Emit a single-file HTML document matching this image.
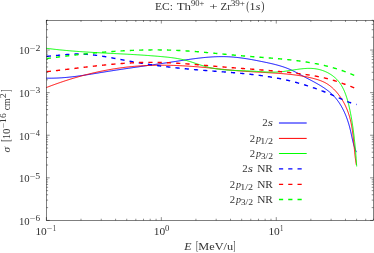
<!DOCTYPE html>
<html><head><meta charset="utf-8"><title>plot</title>
<style>
html,body{margin:0;padding:0;background:#fff;}
body{width:374px;height:253px;overflow:hidden;font-family:"Liberation Serif",serif;}
svg{display:block;will-change:transform;opacity:0.999}
text{font-family:"Liberation Serif",serif;fill:#333;font-kerning:none;}
.i{font-style:italic}
</style></head><body>
<svg width="374" height="253" viewBox="0 0 374 253">
<rect width="374" height="253" fill="#fff"/>
<path d="M46.39,78.14 L47.12,78.16 L47.84,78.17 L48.56,78.18 L49.29,78.19 L50.01,78.19 L50.74,78.19 L51.46,78.19 L52.18,78.18 L52.90,78.17 L53.62,78.16 L54.35,78.14 L55.07,78.12 L55.79,78.09 L56.51,78.07 L57.23,78.04 L57.95,78.01 L58.67,77.97 L59.39,77.93 L60.11,77.89 L60.83,77.85 L61.55,77.80 L62.26,77.75 L62.98,77.70 L63.70,77.64 L64.42,77.59 L65.14,77.53 L65.85,77.46 L66.57,77.40 L67.29,77.33 L68.00,77.26 L68.72,77.19 L69.43,77.12 L70.15,77.04 L70.87,76.97 L71.58,76.89 L72.30,76.81 L73.01,76.72 L73.73,76.64 L74.44,76.55 L75.15,76.46 L75.87,76.37 L76.58,76.28 L77.30,76.19 L78.01,76.09 L78.72,75.99 L79.44,75.90 L80.15,75.80 L80.86,75.70 L81.58,75.59 L82.29,75.49 L83.00,75.39 L83.71,75.28 L84.43,75.17 L85.14,75.07 L85.85,74.96 L86.56,74.85 L87.28,74.74 L87.99,74.63 L88.70,74.52 L89.41,74.40 L90.12,74.29 L90.83,74.18 L91.55,74.06 L92.26,73.95 L92.97,73.83 L93.68,73.71 L94.39,73.60 L95.10,73.48 L95.81,73.36 L96.53,73.25 L97.24,73.13 L97.95,73.01 L98.66,72.90 L99.37,72.78 L100.08,72.66 L100.79,72.54 L101.50,72.43 L102.21,72.31 L102.93,72.19 L103.64,72.08 L104.35,71.96 L105.06,71.85 L105.77,71.73 L106.48,71.62 L107.19,71.50 L107.90,71.39 L108.62,71.28 L109.33,71.16 L110.04,71.05 L110.75,70.94 L111.46,70.83 L112.17,70.72 L112.88,70.61 L113.60,70.50 L114.31,70.39 L115.02,70.28 L115.73,70.17 L116.44,70.06 L117.15,69.95 L117.87,69.85 L118.58,69.74 L119.29,69.63 L120.00,69.52 L120.71,69.42 L121.43,69.31 L122.14,69.20 L122.85,69.10 L123.56,68.99 L124.27,68.89 L124.99,68.78 L125.70,68.68 L126.41,68.57 L127.12,68.47 L127.83,68.37 L128.55,68.26 L129.26,68.16 L129.97,68.06 L130.68,67.95 L131.40,67.85 L132.11,67.75 L132.82,67.64 L133.53,67.54 L134.25,67.44 L134.96,67.34 L135.67,67.23 L136.38,67.13 L137.10,67.03 L137.81,66.93 L138.52,66.83 L139.23,66.73 L139.95,66.62 L140.66,66.52 L141.37,66.42 L142.08,66.32 L142.80,66.22 L143.51,66.12 L144.22,66.01 L144.94,65.91 L145.65,65.81 L146.36,65.71 L147.07,65.61 L147.79,65.51 L148.50,65.41 L149.21,65.30 L149.93,65.20 L150.64,65.10 L151.35,65.00 L152.07,64.90 L152.78,64.80 L153.49,64.69 L154.21,64.59 L154.92,64.49 L155.63,64.39 L156.35,64.28 L157.06,64.18 L157.77,64.08 L158.49,63.98 L159.20,63.87 L159.91,63.77 L160.63,63.67 L161.34,63.56 L162.05,63.46 L162.77,63.35 L163.48,63.25 L164.19,63.14 L164.91,63.04 L165.62,62.93 L166.33,62.83 L167.05,62.72 L167.76,62.62 L168.47,62.51 L169.19,62.40 L169.90,62.30 L170.62,62.19 L171.33,62.08 L172.04,61.97 L172.76,61.87 L173.47,61.76 L174.19,61.65 L174.90,61.54 L175.61,61.43 L176.33,61.32 L177.04,61.21 L177.75,61.10 L178.47,60.99 L179.18,60.88 L179.90,60.77 L180.61,60.66 L181.33,60.56 L182.04,60.45 L182.75,60.34 L183.47,60.23 L184.18,60.12 L184.90,60.02 L185.61,59.91 L186.32,59.81 L187.04,59.70 L187.75,59.60 L188.47,59.50 L189.18,59.39 L189.90,59.29 L190.61,59.19 L191.33,59.09 L192.04,58.99 L192.76,58.90 L193.47,58.80 L194.18,58.71 L194.90,58.61 L195.61,58.52 L196.33,58.43 L197.04,58.34 L197.76,58.26 L198.47,58.17 L199.19,58.09 L199.90,58.01 L200.62,57.93 L201.33,57.85 L202.05,57.77 L202.76,57.70 L203.48,57.62 L204.19,57.55 L204.91,57.48 L205.62,57.42 L206.34,57.35 L207.06,57.29 L207.77,57.23 L208.49,57.18 L209.20,57.12 L209.92,57.07 L210.63,57.02 L211.35,56.97 L212.07,56.93 L212.78,56.89 L213.50,56.85 L214.21,56.81 L214.93,56.78 L215.64,56.75 L216.36,56.72 L217.08,56.70 L217.79,56.68 L218.51,56.66 L219.23,56.65 L219.94,56.64 L220.66,56.63 L221.38,56.63 L222.09,56.63 L222.81,56.63 L223.52,56.63 L224.24,56.64 L224.96,56.66 L225.68,56.68 L226.39,56.70 L227.11,56.72 L227.83,56.75 L228.54,56.79 L229.26,56.82 L229.98,56.86 L230.69,56.91 L231.41,56.96 L232.13,57.01 L232.85,57.07 L233.56,57.13 L234.28,57.19 L235.00,57.26 L235.72,57.32 L236.43,57.40 L237.15,57.47 L237.87,57.55 L238.58,57.64 L239.30,57.72 L240.02,57.81 L240.73,57.90 L241.45,57.99 L242.17,58.09 L242.88,58.19 L243.60,58.29 L244.32,58.40 L245.03,58.50 L245.75,58.61 L246.46,58.72 L247.18,58.84 L247.89,58.95 L248.61,59.07 L249.32,59.19 L250.04,59.32 L250.75,59.44 L251.47,59.56 L252.18,59.69 L252.90,59.82 L253.61,59.95 L254.32,60.09 L255.04,60.22 L255.75,60.35 L256.46,60.49 L257.17,60.63 L257.88,60.77 L258.60,60.91 L259.31,61.05 L260.02,61.19 L260.73,61.34 L261.44,61.48 L262.15,61.63 L262.86,61.77 L263.57,61.92 L264.28,62.07 L264.98,62.21 L265.69,62.36 L266.40,62.51 L267.10,62.66 L267.81,62.81 L268.52,62.97 L269.22,63.12 L269.92,63.28 L270.63,63.43 L271.33,63.60 L272.03,63.76 L272.73,63.92 L273.43,64.09 L274.12,64.26 L274.82,64.43 L275.51,64.61 L276.21,64.79 L276.90,64.97 L277.59,65.16 L278.28,65.35 L278.97,65.54 L279.65,65.74 L280.34,65.94 L281.02,66.15 L281.70,66.36 L282.38,66.58 L283.05,66.80 L283.73,67.03 L284.40,67.26 L285.07,67.50 L285.74,67.74 L286.40,67.99 L287.07,68.24 L287.73,68.50 L288.38,68.77 L289.04,69.04 L289.69,69.32 L290.34,69.61 L290.99,69.90 L291.64,70.20 L292.28,70.50 L292.93,70.81 L293.57,71.13 L294.21,71.44 L294.85,71.77 L295.48,72.09 L296.12,72.42 L296.76,72.75 L297.39,73.09 L298.03,73.42 L298.66,73.76 L299.30,74.11 L299.93,74.45 L300.57,74.79 L301.20,75.14 L301.84,75.48 L302.48,75.83 L303.12,76.17 L303.76,76.52 L304.40,76.86 L305.05,77.20 L305.69,77.54 L306.34,77.88 L306.99,78.22 L307.63,78.56 L308.28,78.90 L308.93,79.24 L309.58,79.59 L310.23,79.93 L310.88,80.27 L311.53,80.61 L312.18,80.95 L312.82,81.30 L313.47,81.65 L314.11,81.99 L314.76,82.34 L315.40,82.70 L316.04,83.05 L316.68,83.41 L317.31,83.76 L317.94,84.13 L318.57,84.49 L319.20,84.86 L319.83,85.23 L320.45,85.60 L321.07,85.98 L321.68,86.36 L322.29,86.75 L322.90,87.14 L323.50,87.53 L324.10,87.93 L324.69,88.34 L325.28,88.74 L325.87,89.16 L326.45,89.58 L327.02,90.00 L327.59,90.43 L328.15,90.87 L328.71,91.31 L329.26,91.76 L329.80,92.21 L330.34,92.67 L330.87,93.14 L331.39,93.62 L331.91,94.10 L332.42,94.59 L332.92,95.09 L333.41,95.59 L333.90,96.10 L334.38,96.62 L334.85,97.15 L335.32,97.68 L335.77,98.22 L336.22,98.77 L336.66,99.32 L337.10,99.88 L337.53,100.45 L337.95,101.02 L338.36,101.60 L338.77,102.19 L339.17,102.78 L339.57,103.37 L339.95,103.97 L340.33,104.58 L340.71,105.19 L341.07,105.81 L341.43,106.43 L341.79,107.06 L342.14,107.69 L342.48,108.32 L342.81,108.96 L343.14,109.61 L343.47,110.25 L343.78,110.91 L344.09,111.56 L344.40,112.22 L344.70,112.88 L344.99,113.55 L345.28,114.22 L345.56,114.89 L345.83,115.57 L346.10,116.24 L346.37,116.92 L346.62,117.61 L346.88,118.29 L347.13,118.98 L347.37,119.67 L347.60,120.36 L347.84,121.06 L348.06,121.75 L348.28,122.45 L348.50,123.14 L348.71,123.84 L348.92,124.54 L349.12,125.25 L349.32,125.95 L349.51,126.65 L349.69,127.35 L349.88,128.06 L350.05,128.76 L350.23,129.46 L350.40,130.17 L350.56,130.87 L350.72,131.57 L350.88,132.28 L351.03,132.98 L351.18,133.68 L351.33,134.38 L351.48,135.08 L351.63,135.78 L351.78,136.48 L351.93,137.18 L352.08,137.88 L352.23,138.57 L352.38,139.27 L352.54,139.96 L352.70,140.65 L352.86,141.34 L353.03,142.03 L353.20,142.72 L353.38,143.41 L353.56,144.09 L353.75,144.77 L353.95,145.45 L354.16,146.13 L354.37,146.81 L354.60,147.48 L354.83,148.16 L355.07,148.83 L355.33,149.49 L355.59,150.16 L355.87,150.82 L356.15,151.48 L356.46,152.14" fill="none" stroke="#0000ff" stroke-width="1.0" stroke-linejoin="round"/>
<path d="M46.45,87.51 L47.15,87.24 L47.85,86.97 L48.55,86.70 L49.25,86.43 L49.95,86.17 L50.65,85.91 L51.36,85.64 L52.06,85.38 L52.76,85.13 L53.47,84.87 L54.17,84.61 L54.88,84.36 L55.59,84.10 L56.29,83.85 L57.00,83.60 L57.71,83.35 L58.42,83.10 L59.13,82.86 L59.84,82.61 L60.55,82.37 L61.26,82.13 L61.97,81.88 L62.68,81.65 L63.40,81.41 L64.11,81.17 L64.83,80.94 L65.54,80.70 L66.25,80.47 L66.97,80.24 L67.69,80.01 L68.40,79.79 L69.12,79.56 L69.84,79.34 L70.56,79.11 L71.27,78.89 L71.99,78.67 L72.71,78.46 L73.43,78.24 L74.15,78.03 L74.87,77.81 L75.60,77.60 L76.32,77.39 L77.04,77.18 L77.76,76.98 L78.49,76.77 L79.21,76.57 L79.93,76.36 L80.66,76.16 L81.38,75.97 L82.11,75.77 L82.84,75.57 L83.56,75.38 L84.29,75.19 L85.02,75.00 L85.74,74.81 L86.47,74.62 L87.20,74.44 L87.93,74.25 L88.66,74.07 L89.39,73.89 L90.12,73.71 L90.85,73.53 L91.58,73.36 L92.31,73.18 L93.05,73.01 L93.78,72.84 L94.51,72.67 L95.24,72.51 L95.98,72.34 L96.71,72.18 L97.44,72.02 L98.18,71.86 L98.91,71.70 L99.65,71.54 L100.38,71.39 L101.12,71.24 L101.86,71.09 L102.59,70.94 L103.33,70.79 L104.07,70.65 L104.80,70.50 L105.54,70.36 L106.28,70.22 L107.02,70.08 L107.76,69.95 L108.50,69.81 L109.24,69.68 L109.98,69.55 L110.72,69.42 L111.46,69.29 L112.20,69.17 L112.94,69.05 L113.68,68.93 L114.42,68.81 L115.16,68.69 L115.90,68.57 L116.65,68.46 L117.39,68.35 L118.13,68.24 L118.87,68.13 L119.62,68.03 L120.36,67.92 L121.10,67.82 L121.85,67.72 L122.59,67.62 L123.34,67.53 L124.08,67.43 L124.83,67.34 L125.57,67.25 L126.32,67.16 L127.06,67.08 L127.81,66.99 L128.55,66.91 L129.30,66.83 L130.05,66.75 L130.79,66.68 L131.54,66.60 L132.29,66.53 L133.03,66.46 L133.78,66.39 L134.53,66.33 L135.28,66.26 L136.02,66.20 L136.77,66.14 L137.52,66.08 L138.27,66.03 L139.02,65.98 L139.77,65.92 L140.51,65.87 L141.26,65.83 L142.01,65.78 L142.76,65.74 L143.51,65.69 L144.26,65.65 L145.01,65.62 L145.76,65.58 L146.51,65.55 L147.26,65.51 L148.01,65.48 L148.76,65.45 L149.51,65.43 L150.26,65.40 L151.01,65.38 L151.76,65.35 L152.51,65.33 L153.26,65.32 L154.01,65.30 L154.76,65.28 L155.51,65.27 L156.26,65.26 L157.02,65.25 L157.77,65.24 L158.52,65.23 L159.27,65.23 L160.02,65.23 L160.77,65.22 L161.52,65.22 L162.27,65.23 L163.03,65.23 L163.78,65.23 L164.53,65.24 L165.28,65.25 L166.03,65.26 L166.78,65.27 L167.54,65.28 L168.29,65.29 L169.04,65.31 L169.79,65.32 L170.54,65.34 L171.29,65.36 L172.05,65.38 L172.80,65.41 L173.55,65.43 L174.30,65.45 L175.05,65.48 L175.80,65.51 L176.56,65.54 L177.31,65.57 L178.06,65.60 L178.81,65.63 L179.56,65.67 L180.31,65.70 L181.06,65.74 L181.82,65.78 L182.57,65.82 L183.32,65.86 L184.07,65.90 L184.82,65.94 L185.57,65.99 L186.32,66.03 L187.07,66.08 L187.82,66.12 L188.57,66.17 L189.33,66.22 L190.08,66.27 L190.83,66.33 L191.58,66.38 L192.33,66.43 L193.08,66.49 L193.83,66.54 L194.58,66.60 L195.33,66.66 L196.08,66.72 L196.83,66.78 L197.58,66.84 L198.33,66.90 L199.08,66.97 L199.82,67.03 L200.57,67.10 L201.32,67.16 L202.07,67.23 L202.82,67.30 L203.57,67.36 L204.32,67.43 L205.06,67.50 L205.81,67.58 L206.56,67.65 L207.31,67.72 L208.06,67.79 L208.80,67.87 L209.55,67.94 L210.30,68.02 L211.04,68.09 L211.79,68.17 L212.54,68.25 L213.28,68.32 L214.03,68.40 L214.78,68.48 L215.52,68.56 L216.27,68.64 L217.02,68.72 L217.76,68.79 L218.51,68.87 L219.25,68.95 L220.00,69.03 L220.75,69.11 L221.49,69.19 L222.24,69.26 L222.98,69.34 L223.73,69.42 L224.48,69.50 L225.22,69.57 L225.97,69.65 L226.71,69.72 L227.46,69.80 L228.20,69.87 L228.95,69.95 L229.70,70.02 L230.44,70.09 L231.19,70.16 L231.93,70.23 L232.68,70.30 L233.43,70.37 L234.17,70.44 L234.92,70.50 L235.67,70.57 L236.41,70.63 L237.16,70.69 L237.91,70.76 L238.65,70.82 L239.40,70.87 L240.15,70.93 L240.90,70.99 L241.64,71.05 L242.39,71.10 L243.14,71.15 L243.89,71.21 L244.63,71.26 L245.38,71.31 L246.13,71.36 L246.88,71.41 L247.63,71.46 L248.38,71.51 L249.12,71.56 L249.87,71.61 L250.62,71.65 L251.37,71.70 L252.12,71.75 L252.87,71.79 L253.62,71.84 L254.37,71.88 L255.12,71.93 L255.87,71.97 L256.62,72.02 L257.37,72.06 L258.12,72.10 L258.87,72.15 L259.62,72.19 L260.37,72.23 L261.12,72.28 L261.87,72.32 L262.62,72.36 L263.37,72.41 L264.12,72.45 L264.87,72.49 L265.62,72.54 L266.37,72.58 L267.13,72.63 L267.88,72.67 L268.63,72.72 L269.38,72.76 L270.13,72.81 L270.88,72.85 L271.64,72.90 L272.39,72.95 L273.14,72.99 L273.89,73.04 L274.64,73.09 L275.40,73.14 L276.15,73.19 L276.90,73.24 L277.65,73.30 L278.40,73.35 L279.16,73.41 L279.91,73.46 L280.66,73.52 L281.41,73.58 L282.16,73.64 L282.92,73.70 L283.67,73.76 L284.42,73.83 L285.17,73.89 L285.92,73.96 L286.67,74.03 L287.42,74.11 L288.17,74.18 L288.92,74.26 L289.67,74.34 L290.41,74.42 L291.16,74.50 L291.91,74.58 L292.66,74.67 L293.40,74.76 L294.15,74.86 L294.89,74.95 L295.64,75.05 L296.38,75.15 L297.13,75.26 L297.87,75.36 L298.61,75.47 L299.35,75.59 L300.09,75.70 L300.83,75.82 L301.57,75.95 L302.31,76.07 L303.05,76.20 L303.79,76.33 L304.53,76.47 L305.26,76.61 L306.00,76.76 L306.73,76.90 L307.46,77.06 L308.20,77.21 L308.93,77.37 L309.66,77.54 L310.39,77.70 L311.11,77.88 L311.84,78.05 L312.57,78.23 L313.29,78.42 L314.02,78.61 L314.74,78.81 L315.46,79.01 L316.18,79.21 L316.90,79.42 L317.61,79.64 L318.32,79.87 L319.03,80.11 L319.74,80.36 L320.44,80.61 L321.13,80.88 L321.82,81.16 L322.51,81.44 L323.19,81.75 L323.86,82.06 L324.53,82.39 L325.19,82.73 L325.84,83.09 L326.49,83.46 L327.13,83.85 L327.76,84.26 L328.38,84.68 L329.00,85.11 L329.60,85.56 L330.20,86.02 L330.79,86.49 L331.38,86.97 L331.95,87.47 L332.52,87.98 L333.08,88.49 L333.63,89.02 L334.17,89.56 L334.70,90.10 L335.23,90.66 L335.75,91.22 L336.25,91.79 L336.75,92.36 L337.24,92.94 L337.73,93.53 L338.20,94.12 L338.67,94.72 L339.12,95.32 L339.57,95.93 L340.01,96.54 L340.44,97.16 L340.86,97.78 L341.28,98.41 L341.68,99.03 L342.08,99.67 L342.47,100.31 L342.85,100.95 L343.22,101.59 L343.59,102.24 L343.95,102.90 L344.30,103.56 L344.64,104.22 L344.97,104.88 L345.30,105.55 L345.62,106.22 L345.93,106.90 L346.23,107.58 L346.53,108.26 L346.82,108.94 L347.10,109.63 L347.37,110.32 L347.64,111.02 L347.90,111.72 L348.15,112.42 L348.40,113.12 L348.63,113.82 L348.87,114.53 L349.09,115.24 L349.31,115.95 L349.52,116.67 L349.73,117.39 L349.92,118.11 L350.12,118.83 L350.30,119.55 L350.48,120.28 L350.65,121.01 L350.82,121.73 L350.98,122.47 L351.13,123.20 L351.28,123.93 L351.43,124.67 L351.57,125.41 L351.70,126.15 L351.83,126.89 L351.96,127.63 L352.08,128.37 L352.19,129.12 L352.31,129.86 L352.42,130.61 L352.52,131.35 L352.62,132.10 L352.72,132.85 L352.81,133.60 L352.91,134.35 L353.00,135.10 L353.08,135.86 L353.17,136.61 L353.25,137.36 L353.33,138.12 L353.41,138.87 L353.48,139.62 L353.56,140.38 L353.63,141.13 L353.71,141.89 L353.78,142.64 L353.85,143.40 L353.92,144.15 L353.99,144.91 L354.06,145.66 L354.13,146.41 L354.20,147.17 L354.27,147.92 L354.34,148.67 L354.41,149.43 L354.48,150.18 L354.55,150.93 L354.63,151.68 L354.70,152.43 L354.78,153.18 L354.86,153.92 L354.94,154.67 L355.02,155.42 L355.11,156.16 L355.19,156.90 L355.28,157.65 L355.38,158.39 L355.47,159.13 L355.57,159.87 L355.67,160.60 L355.78,161.34 L355.89,162.07 L356.00,162.80 L356.12,163.53 L356.24,164.26 L356.37,164.99" fill="none" stroke="#ff0000" stroke-width="1.0" stroke-linejoin="round"/>
<path d="M46.40,48.29 L47.16,48.40 L47.93,48.50 L48.70,48.59 L49.47,48.69 L50.24,48.79 L51.01,48.88 L51.78,48.97 L52.55,49.06 L53.32,49.16 L54.09,49.24 L54.86,49.33 L55.63,49.42 L56.40,49.50 L57.17,49.59 L57.94,49.67 L58.71,49.75 L59.48,49.83 L60.25,49.91 L61.02,49.99 L61.79,50.06 L62.56,50.14 L63.33,50.21 L64.10,50.29 L64.88,50.36 L65.65,50.43 L66.42,50.50 L67.19,50.57 L67.96,50.64 L68.73,50.71 L69.50,50.77 L70.27,50.84 L71.04,50.90 L71.81,50.97 L72.58,51.03 L73.36,51.09 L74.13,51.15 L74.90,51.21 L75.67,51.27 L76.44,51.33 L77.21,51.39 L77.98,51.44 L78.76,51.50 L79.53,51.55 L80.30,51.61 L81.07,51.66 L81.84,51.72 L82.61,51.77 L83.39,51.82 L84.16,51.87 L84.93,51.92 L85.70,51.97 L86.47,52.02 L87.25,52.07 L88.02,52.12 L88.79,52.16 L89.56,52.21 L90.33,52.26 L91.11,52.30 L91.88,52.35 L92.65,52.40 L93.42,52.44 L94.19,52.48 L94.97,52.53 L95.74,52.57 L96.51,52.61 L97.28,52.66 L98.06,52.70 L98.83,52.74 L99.60,52.78 L100.37,52.82 L101.15,52.87 L101.92,52.91 L102.69,52.95 L103.46,52.99 L104.24,53.03 L105.01,53.07 L105.78,53.11 L106.55,53.15 L107.33,53.19 L108.10,53.23 L108.87,53.27 L109.65,53.31 L110.42,53.34 L111.19,53.38 L111.96,53.42 L112.74,53.46 L113.51,53.50 L114.28,53.54 L115.05,53.58 L115.83,53.62 L116.60,53.66 L117.37,53.70 L118.15,53.74 L118.92,53.78 L119.69,53.82 L120.47,53.86 L121.24,53.90 L122.01,53.94 L122.78,53.98 L123.56,54.02 L124.33,54.06 L125.10,54.10 L125.88,54.14 L126.65,54.18 L127.42,54.22 L128.20,54.27 L128.97,54.31 L129.74,54.35 L130.51,54.40 L131.29,54.44 L132.06,54.48 L132.83,54.53 L133.61,54.57 L134.38,54.62 L135.15,54.66 L135.93,54.71 L136.70,54.76 L137.47,54.81 L138.24,54.85 L139.02,54.90 L139.79,54.95 L140.56,55.00 L141.34,55.05 L142.11,55.10 L142.88,55.15 L143.66,55.21 L144.43,55.26 L145.20,55.31 L145.97,55.37 L146.75,55.42 L147.52,55.48 L148.29,55.53 L149.07,55.59 L149.84,55.65 L150.61,55.71 L151.38,55.77 L152.16,55.83 L152.93,55.89 L153.70,55.95 L154.48,56.01 L155.25,56.07 L156.02,56.14 L156.79,56.20 L157.57,56.26 L158.34,56.33 L159.11,56.39 L159.88,56.46 L160.65,56.53 L161.43,56.60 L162.20,56.67 L162.97,56.74 L163.74,56.81 L164.51,56.88 L165.29,56.96 L166.06,57.03 L166.83,57.11 L167.60,57.19 L168.37,57.28 L169.13,57.37 L169.90,57.46 L170.67,57.55 L171.44,57.64 L172.20,57.74 L172.97,57.85 L173.73,57.96 L174.50,58.07 L175.26,58.18 L176.02,58.30 L176.78,58.43 L177.54,58.56 L178.30,58.69 L179.06,58.83 L179.82,58.98 L180.57,59.13 L181.33,59.28 L182.08,59.45 L182.83,59.62 L183.58,59.79 L184.33,59.97 L185.08,60.16 L185.83,60.36 L186.57,60.56 L187.31,60.77 L188.06,60.98 L188.80,61.20 L189.54,61.42 L190.28,61.65 L191.01,61.89 L191.75,62.12 L192.49,62.36 L193.22,62.60 L193.96,62.85 L194.69,63.09 L195.43,63.34 L196.16,63.59 L196.90,63.83 L197.63,64.08 L198.37,64.32 L199.10,64.57 L199.84,64.81 L200.57,65.05 L201.31,65.28 L202.05,65.52 L202.78,65.74 L203.52,65.97 L204.26,66.19 L205.00,66.40 L205.74,66.61 L206.49,66.81 L207.23,67.01 L207.98,67.19 L208.73,67.37 L209.47,67.55 L210.22,67.71 L210.98,67.87 L211.73,68.03 L212.48,68.18 L213.24,68.32 L214.00,68.46 L214.75,68.59 L215.51,68.71 L216.27,68.83 L217.03,68.95 L217.80,69.05 L218.56,69.16 L219.32,69.26 L220.09,69.35 L220.86,69.44 L221.62,69.53 L222.39,69.61 L223.16,69.69 L223.93,69.76 L224.70,69.83 L225.47,69.90 L226.25,69.96 L227.02,70.02 L227.79,70.07 L228.57,70.13 L229.34,70.18 L230.12,70.22 L230.90,70.27 L231.67,70.31 L232.45,70.35 L233.23,70.39 L234.01,70.43 L234.79,70.46 L235.56,70.49 L236.34,70.52 L237.12,70.55 L237.90,70.58 L238.68,70.61 L239.46,70.64 L240.24,70.66 L241.02,70.69 L241.80,70.72 L242.58,70.74 L243.36,70.77 L244.14,70.79 L244.91,70.82 L245.69,70.85 L246.47,70.88 L247.25,70.90 L248.02,70.93 L248.80,70.96 L249.57,71.00 L250.35,71.03 L251.12,71.07 L251.89,71.10 L252.67,71.14 L253.44,71.18 L254.21,71.23 L254.98,71.27 L255.75,71.32 L256.51,71.37 L257.28,71.42 L258.05,71.47 L258.81,71.52 L259.58,71.57 L260.34,71.62 L261.11,71.67 L261.87,71.72 L262.64,71.77 L263.40,71.82 L264.16,71.86 L264.93,71.91 L265.69,71.95 L266.45,71.98 L267.22,72.02 L267.98,72.05 L268.74,72.08 L269.51,72.10 L270.27,72.12 L271.04,72.13 L271.80,72.14 L272.57,72.14 L273.33,72.14 L274.10,72.13 L274.87,72.12 L275.64,72.09 L276.41,72.06 L277.18,72.03 L277.95,71.98 L278.72,71.93 L279.49,71.87 L280.27,71.80 L281.04,71.73 L281.82,71.65 L282.59,71.56 L283.37,71.47 L284.15,71.37 L284.93,71.26 L285.70,71.16 L286.48,71.04 L287.26,70.93 L288.04,70.81 L288.82,70.69 L289.61,70.57 L290.39,70.45 L291.17,70.32 L291.95,70.20 L292.73,70.07 L293.51,69.95 L294.29,69.83 L295.07,69.71 L295.85,69.59 L296.63,69.47 L297.41,69.36 L298.19,69.25 L298.97,69.14 L299.75,69.04 L300.53,68.95 L301.31,68.86 L302.08,68.77 L302.86,68.69 L303.63,68.62 L304.41,68.56 L305.18,68.51 L305.95,68.46 L306.73,68.42 L307.50,68.39 L308.27,68.37 L309.03,68.37 L309.80,68.37 L310.56,68.38 L311.33,68.41 L312.09,68.45 L312.85,68.50 L313.61,68.56 L314.37,68.64 L315.12,68.74 L315.88,68.84 L316.63,68.97 L317.38,69.11 L318.13,69.26 L318.87,69.43 L319.62,69.61 L320.35,69.81 L321.09,70.02 L321.82,70.25 L322.54,70.49 L323.26,70.74 L323.98,71.02 L324.69,71.30 L325.39,71.60 L326.09,71.91 L326.78,72.24 L327.47,72.58 L328.15,72.93 L328.82,73.30 L329.48,73.68 L330.13,74.08 L330.78,74.49 L331.41,74.91 L332.04,75.34 L332.66,75.79 L333.27,76.26 L333.86,76.73 L334.45,77.22 L335.03,77.72 L335.59,78.23 L336.15,78.76 L336.69,79.29 L337.22,79.84 L337.74,80.41 L338.24,80.98 L338.73,81.57 L339.21,82.17 L339.67,82.78 L340.12,83.40 L340.56,84.04 L340.98,84.68 L341.39,85.34 L341.79,86.00 L342.17,86.68 L342.54,87.36 L342.90,88.05 L343.25,88.75 L343.59,89.46 L343.92,90.17 L344.24,90.89 L344.55,91.61 L344.85,92.34 L345.13,93.08 L345.42,93.81 L345.69,94.56 L345.95,95.30 L346.21,96.05 L346.46,96.79 L346.70,97.54 L346.94,98.29 L347.17,99.04 L347.39,99.80 L347.61,100.55 L347.82,101.31 L348.03,102.06 L348.23,102.82 L348.42,103.58 L348.61,104.34 L348.80,105.10 L348.98,105.86 L349.15,106.62 L349.32,107.38 L349.49,108.14 L349.66,108.91 L349.82,109.67 L349.98,110.43 L350.13,111.19 L350.28,111.95 L350.43,112.72 L350.58,113.48 L350.73,114.24 L350.87,115.00 L351.01,115.76 L351.15,116.52 L351.28,117.29 L351.42,118.05 L351.55,118.81 L351.68,119.57 L351.81,120.33 L351.93,121.09 L352.05,121.85 L352.18,122.61 L352.30,123.37 L352.41,124.13 L352.53,124.89 L352.64,125.65 L352.75,126.42 L352.86,127.18 L352.97,127.94 L353.08,128.70 L353.18,129.46 L353.29,130.22 L353.39,130.98 L353.49,131.74 L353.59,132.51 L353.68,133.27 L353.78,134.03 L353.87,134.79 L353.96,135.55 L354.05,136.32 L354.14,137.08 L354.23,137.84 L354.31,138.61 L354.40,139.37 L354.48,140.14 L354.56,140.90 L354.64,141.67 L354.72,142.43 L354.80,143.20 L354.88,143.96 L354.95,144.73 L355.03,145.50 L355.10,146.26 L355.17,147.03 L355.24,147.80 L355.32,148.57 L355.38,149.34 L355.45,150.11 L355.52,150.88 L355.59,151.65 L355.65,152.42 L355.72,153.19 L355.78,153.96 L355.84,154.74 L355.90,155.51 L355.96,156.29 L356.02,157.06 L356.08,157.84 L356.14,158.61 L356.20,159.39 L356.26,160.17 L356.32,160.95 L356.37,161.72 L356.43,162.50 L356.48,163.29 L356.54,164.07 L356.59,164.85 L356.65,165.63 L356.70,166.42" fill="none" stroke="#00ff00" stroke-width="1.0" stroke-linejoin="round"/>
<path d="M46.40,56.30 L47.03,56.26 L47.66,56.22 L48.29,56.18 L48.93,56.13 L49.56,56.09 L50.19,56.04 L50.82,55.98 L51.45,55.93 L52.08,55.88 L52.72,55.82 L53.35,55.76 L53.98,55.71 L54.61,55.65 L55.24,55.59 L55.88,55.53 L56.51,55.47 L57.14,55.41 L57.77,55.34 L58.40,55.28 L59.04,55.22 L59.67,55.16 L60.30,55.10 L60.93,55.04 L61.57,54.98 L62.20,54.92 L62.83,54.86 L63.46,54.80 L64.10,54.74 L64.73,54.69 L65.36,54.63 L65.99,54.58 L66.63,54.53 L67.26,54.48 L67.89,54.43 L68.52,54.39 L69.16,54.34 L69.79,54.30 L70.42,54.26 L71.06,54.23 L71.69,54.19 L72.32,54.16 L72.95,54.13 L73.59,54.11 L74.22,54.09 L74.85,54.07 L75.49,54.05 L76.12,54.04 L76.75,54.03 L77.38,54.03 L78.02,54.03 L78.65,54.03 L79.28,54.04 L79.92,54.05 L80.55,54.06 L81.18,54.08 L81.81,54.10 L82.45,54.12 L83.08,54.15 L83.71,54.18 L84.34,54.21 L84.98,54.25 L85.61,54.29 L86.24,54.33 L86.87,54.37 L87.50,54.42 L88.14,54.47 L88.77,54.52 L89.40,54.58 L90.03,54.63 L90.66,54.69 L91.29,54.76 L91.92,54.82 L92.55,54.89 L93.18,54.96 L93.81,55.03 L94.44,55.10 L95.07,55.18 L95.70,55.26 L96.33,55.34 L96.96,55.42 L97.58,55.51 L98.21,55.59 L98.84,55.68 L99.47,55.77 L100.10,55.86 L100.72,55.95 L101.35,56.05 L101.98,56.14 L102.60,56.24 L103.23,56.34 L103.86,56.44 L104.48,56.54 L105.11,56.65 L105.73,56.75 L106.36,56.86 L106.99,56.97 L107.61,57.07 L108.24,57.18 L108.86,57.29 L109.49,57.40 L110.11,57.52 L110.74,57.63 L111.36,57.74 L111.99,57.86 L112.61,57.97 L113.24,58.09 L113.86,58.21 L114.48,58.32 L115.11,58.44 L115.73,58.56 L116.36,58.68 L116.98,58.80 L117.60,58.92 L118.23,59.04 L118.85,59.16 L119.48,59.28 L120.10,59.40 L120.72,59.52 L121.35,59.64 L121.97,59.76 L122.60,59.88 L123.22,60.00 L123.84,60.12 L124.47,60.24 L125.09,60.36 L125.72,60.47 L126.34,60.59 L126.96,60.71 L127.59,60.83 L128.21,60.95 L128.84,61.06 L129.46,61.18 L130.08,61.29 L130.71,61.41 L131.33,61.52 L131.96,61.63 L132.58,61.75 L133.21,61.86 L133.83,61.97 L134.46,62.08 L135.08,62.19 L135.71,62.30 L136.33,62.40 L136.96,62.51 L137.58,62.61 L138.21,62.72 L138.83,62.82 L139.46,62.93 L140.08,63.03 L140.71,63.13 L141.34,63.23 L141.96,63.33 L142.59,63.43 L143.21,63.53 L143.84,63.63 L144.47,63.73 L145.09,63.83 L145.72,63.92 L146.35,64.02 L146.97,64.11 L147.60,64.21 L148.23,64.30 L148.85,64.39 L149.48,64.49 L150.11,64.58 L150.73,64.67 L151.36,64.76 L151.99,64.85 L152.61,64.94 L153.24,65.02 L153.87,65.11 L154.50,65.20 L155.12,65.29 L155.75,65.37 L156.38,65.46 L157.01,65.54 L157.63,65.62 L158.26,65.71 L158.89,65.79 L159.52,65.87 L160.15,65.95 L160.77,66.03 L161.40,66.11 L162.03,66.19 L162.66,66.27 L163.29,66.35 L163.92,66.43 L164.54,66.51 L165.17,66.58 L165.80,66.66 L166.43,66.73 L167.06,66.81 L167.69,66.88 L168.32,66.96 L168.95,67.03 L169.58,67.10 L170.20,67.18 L170.83,67.25 L171.46,67.32 L172.09,67.39 L172.72,67.46 L173.35,67.53 L173.98,67.60 L174.61,67.67 L175.24,67.74 L175.87,67.80 L176.50,67.87 L177.13,67.94 L177.76,68.00 L178.39,68.07 L179.02,68.13 L179.65,68.20 L180.28,68.26 L180.91,68.33 L181.54,68.39 L182.17,68.45 L182.80,68.52 L183.43,68.58 L184.06,68.64 L184.69,68.70 L185.32,68.76 L185.96,68.82 L186.59,68.89 L187.22,68.94 L187.85,69.00 L188.48,69.06 L189.11,69.12 L189.74,69.18 L190.37,69.24 L191.00,69.30 L191.64,69.35 L192.27,69.41 L192.90,69.47 L193.53,69.52 L194.16,69.58 L194.79,69.63 L195.42,69.69 L196.06,69.74 L196.69,69.80 L197.32,69.85 L197.95,69.90 L198.58,69.96 L199.22,70.01 L199.85,70.06 L200.48,70.12 L201.11,70.17 L201.75,70.22 L202.38,70.27 L203.01,70.32 L203.64,70.37 L204.27,70.42 L204.91,70.47 L205.54,70.52 L206.17,70.57 L206.81,70.62 L207.44,70.67 L208.07,70.72 L208.70,70.77 L209.34,70.82 L209.97,70.87 L210.60,70.92 L211.24,70.97 L211.87,71.01 L212.50,71.06 L213.13,71.11 L213.77,71.16 L214.40,71.20 L215.03,71.25 L215.67,71.30 L216.30,71.35 L216.93,71.40 L217.57,71.44 L218.20,71.49 L218.83,71.54 L219.47,71.59 L220.10,71.63 L220.73,71.68 L221.37,71.73 L222.00,71.78 L222.63,71.83 L223.26,71.88 L223.90,71.92 L224.53,71.97 L225.16,72.02 L225.80,72.07 L226.43,72.12 L227.06,72.17 L227.70,72.22 L228.33,72.27 L228.96,72.32 L229.59,72.37 L230.23,72.42 L230.86,72.47 L231.49,72.52 L232.12,72.58 L232.76,72.63 L233.39,72.68 L234.02,72.73 L234.65,72.79 L235.29,72.84 L235.92,72.90 L236.55,72.95 L237.18,73.01 L237.82,73.06 L238.45,73.12 L239.08,73.18 L239.71,73.23 L240.34,73.29 L240.97,73.35 L241.61,73.41 L242.24,73.47 L242.87,73.53 L243.50,73.59 L244.13,73.65 L244.76,73.71 L245.39,73.77 L246.02,73.84 L246.65,73.90 L247.29,73.97 L247.92,74.03 L248.55,74.10 L249.18,74.17 L249.81,74.23 L250.44,74.30 L251.07,74.37 L251.70,74.44 L252.33,74.51 L252.95,74.58 L253.58,74.66 L254.21,74.73 L254.84,74.80 L255.47,74.88 L256.10,74.95 L256.73,75.03 L257.36,75.11 L257.99,75.19 L258.61,75.27 L259.24,75.35 L259.87,75.43 L260.50,75.51 L261.12,75.60 L261.75,75.68 L262.38,75.77 L263.01,75.86 L263.63,75.94 L264.26,76.03 L264.89,76.12 L265.51,76.22 L266.14,76.31 L266.76,76.40 L267.39,76.50 L268.01,76.59 L268.64,76.69 L269.26,76.79 L269.89,76.89 L270.51,76.99 L271.14,77.09 L271.76,77.20 L272.39,77.30 L273.01,77.41 L273.63,77.52 L274.26,77.62 L274.88,77.74 L275.50,77.85 L276.13,77.96 L276.75,78.07 L277.37,78.19 L277.99,78.31 L278.61,78.43 L279.23,78.55 L279.86,78.67 L280.48,78.79 L281.10,78.92 L281.72,79.04 L282.34,79.17 L282.96,79.30 L283.58,79.43 L284.20,79.56 L284.82,79.70 L285.43,79.83 L286.05,79.97 L286.67,80.11 L287.29,80.25 L287.91,80.39 L288.53,80.53 L289.14,80.68 L289.76,80.83 L290.38,80.98 L290.99,81.13 L291.61,81.28 L292.22,81.43 L292.84,81.59 L293.45,81.74 L294.07,81.90 L294.68,82.06 L295.30,82.22 L295.91,82.39 L296.52,82.55 L297.14,82.72 L297.75,82.89 L298.36,83.06 L298.97,83.23 L299.58,83.40 L300.19,83.58 L300.81,83.75 L301.42,83.93 L302.02,84.11 L302.63,84.29 L303.24,84.47 L303.85,84.65 L304.46,84.84 L305.07,85.03 L305.67,85.21 L306.28,85.40 L306.89,85.59 L307.49,85.79 L308.10,85.98 L308.70,86.18 L309.31,86.37 L309.91,86.57 L310.51,86.77 L311.12,86.97 L311.72,87.17 L312.32,87.38 L312.92,87.58 L313.52,87.79 L314.12,88.00 L314.72,88.21 L315.32,88.42 L315.92,88.63 L316.51,88.84 L317.11,89.06 L317.71,89.28 L318.30,89.49 L318.90,89.71 L319.49,89.93 L320.09,90.16 L320.68,90.38 L321.28,90.60 L321.87,90.83 L322.46,91.06 L323.05,91.28 L323.64,91.51 L324.23,91.75 L324.82,91.98 L325.41,92.21 L326.00,92.45 L326.58,92.68 L327.17,92.92 L327.76,93.16 L328.34,93.40 L328.93,93.64 L329.51,93.88 L330.10,94.12 L330.68,94.36 L331.26,94.61 L331.85,94.85 L332.43,95.10 L333.01,95.35 L333.59,95.59 L334.17,95.84 L334.76,96.09 L335.34,96.34 L335.92,96.59 L336.50,96.84 L337.08,97.09 L337.66,97.35 L338.24,97.60 L338.82,97.85 L339.40,98.11 L339.97,98.36 L340.55,98.62 L341.13,98.87 L341.71,99.13 L342.29,99.38 L342.87,99.64 L343.45,99.89 L344.03,100.15 L344.61,100.40 L345.19,100.65 L345.77,100.89 L346.35,101.14 L346.94,101.38 L347.52,101.61 L348.11,101.85 L348.70,102.08 L349.29,102.30 L349.88,102.52 L350.47,102.73 L351.07,102.94 L351.67,103.14 L352.27,103.33 L352.87,103.52 L353.48,103.69 L354.08,103.86 L354.70,104.03 L355.31,104.18 L355.93,104.32 L356.55,104.46" fill="none" stroke="#0000ff" stroke-width="1.4" stroke-dasharray="4.2 5.08" stroke-dashoffset="-0.3" stroke-linejoin="round"/>
<path d="M46.43,71.69 L47.05,71.63 L47.67,71.56 L48.29,71.49 L48.91,71.42 L49.53,71.36 L50.15,71.29 L50.77,71.22 L51.39,71.15 L52.01,71.08 L52.63,71.01 L53.25,70.94 L53.87,70.87 L54.49,70.80 L55.11,70.73 L55.73,70.66 L56.36,70.59 L56.98,70.51 L57.60,70.44 L58.22,70.37 L58.84,70.30 L59.46,70.22 L60.08,70.15 L60.71,70.08 L61.33,70.00 L61.95,69.93 L62.57,69.86 L63.19,69.78 L63.82,69.71 L64.44,69.64 L65.06,69.56 L65.68,69.49 L66.31,69.41 L66.93,69.34 L67.55,69.26 L68.17,69.19 L68.80,69.11 L69.42,69.04 L70.04,68.96 L70.67,68.89 L71.29,68.81 L71.91,68.74 L72.54,68.66 L73.16,68.59 L73.78,68.51 L74.41,68.44 L75.03,68.36 L75.65,68.29 L76.28,68.21 L76.90,68.14 L77.53,68.06 L78.15,67.99 L78.77,67.91 L79.40,67.84 L80.02,67.76 L80.65,67.69 L81.27,67.61 L81.89,67.54 L82.52,67.47 L83.14,67.39 L83.77,67.32 L84.39,67.24 L85.02,67.17 L85.64,67.10 L86.27,67.02 L86.89,66.95 L87.52,66.88 L88.14,66.81 L88.77,66.73 L89.39,66.66 L90.02,66.59 L90.64,66.52 L91.27,66.45 L91.89,66.38 L92.52,66.31 L93.14,66.24 L93.77,66.17 L94.39,66.10 L95.02,66.03 L95.64,65.96 L96.27,65.89 L96.89,65.82 L97.52,65.75 L98.15,65.69 L98.77,65.62 L99.40,65.55 L100.02,65.49 L100.65,65.42 L101.28,65.35 L101.90,65.29 L102.53,65.22 L103.15,65.16 L103.78,65.10 L104.41,65.03 L105.03,64.97 L105.66,64.91 L106.28,64.85 L106.91,64.79 L107.54,64.72 L108.16,64.66 L108.79,64.61 L109.42,64.55 L110.04,64.49 L110.67,64.43 L111.29,64.37 L111.92,64.32 L112.55,64.26 L113.17,64.20 L113.80,64.15 L114.43,64.09 L115.05,64.04 L115.68,63.99 L116.31,63.94 L116.93,63.88 L117.56,63.83 L118.19,63.78 L118.81,63.73 L119.44,63.68 L120.07,63.64 L120.69,63.59 L121.32,63.54 L121.95,63.50 L122.57,63.45 L123.20,63.41 L123.83,63.36 L124.46,63.32 L125.08,63.28 L125.71,63.24 L126.34,63.20 L126.96,63.16 L127.59,63.12 L128.22,63.08 L128.84,63.04 L129.47,63.01 L130.10,62.97 L130.72,62.94 L131.35,62.90 L131.98,62.87 L132.61,62.84 L133.23,62.81 L133.86,62.78 L134.49,62.75 L135.11,62.72 L135.74,62.70 L136.37,62.67 L136.99,62.64 L137.62,62.62 L138.25,62.60 L138.87,62.58 L139.50,62.55 L140.13,62.53 L140.76,62.52 L141.38,62.50 L142.01,62.48 L142.64,62.47 L143.26,62.45 L143.89,62.44 L144.52,62.42 L145.14,62.41 L145.77,62.40 L146.40,62.39 L147.02,62.39 L147.65,62.38 L148.28,62.37 L148.90,62.37 L149.53,62.37 L150.16,62.36 L150.79,62.36 L151.41,62.36 L152.04,62.36 L152.67,62.37 L153.29,62.37 L153.92,62.38 L154.55,62.38 L155.17,62.39 L155.80,62.40 L156.42,62.41 L157.05,62.42 L157.68,62.43 L158.30,62.44 L158.93,62.45 L159.56,62.47 L160.18,62.48 L160.81,62.50 L161.44,62.51 L162.06,62.53 L162.69,62.55 L163.32,62.57 L163.94,62.59 L164.57,62.62 L165.20,62.64 L165.82,62.66 L166.45,62.69 L167.07,62.71 L167.70,62.74 L168.33,62.76 L168.95,62.79 L169.58,62.82 L170.21,62.85 L170.83,62.88 L171.46,62.91 L172.08,62.94 L172.71,62.98 L173.34,63.01 L173.96,63.04 L174.59,63.08 L175.22,63.11 L175.84,63.15 L176.47,63.19 L177.09,63.22 L177.72,63.26 L178.35,63.30 L178.97,63.34 L179.60,63.38 L180.23,63.42 L180.85,63.46 L181.48,63.50 L182.10,63.55 L182.73,63.59 L183.36,63.63 L183.98,63.68 L184.61,63.72 L185.23,63.77 L185.86,63.81 L186.49,63.86 L187.11,63.91 L187.74,63.95 L188.36,64.00 L188.99,64.05 L189.62,64.10 L190.24,64.14 L190.87,64.19 L191.49,64.24 L192.12,64.29 L192.75,64.34 L193.37,64.39 L194.00,64.44 L194.62,64.49 L195.25,64.55 L195.88,64.60 L196.50,64.65 L197.13,64.70 L197.75,64.75 L198.38,64.81 L199.01,64.86 L199.63,64.91 L200.26,64.97 L200.88,65.02 L201.51,65.07 L202.14,65.13 L202.76,65.18 L203.39,65.24 L204.01,65.29 L204.64,65.34 L205.27,65.40 L205.89,65.45 L206.52,65.51 L207.14,65.56 L207.77,65.62 L208.39,65.67 L209.02,65.73 L209.65,65.78 L210.27,65.84 L210.90,65.89 L211.52,65.95 L212.15,66.00 L212.78,66.06 L213.40,66.11 L214.03,66.17 L214.65,66.22 L215.28,66.28 L215.91,66.33 L216.53,66.39 L217.16,66.44 L217.78,66.50 L218.41,66.55 L219.04,66.60 L219.66,66.66 L220.29,66.71 L220.91,66.76 L221.54,66.82 L222.17,66.87 L222.79,66.92 L223.42,66.98 L224.04,67.03 L224.67,67.08 L225.30,67.13 L225.92,67.18 L226.55,67.23 L227.17,67.28 L227.80,67.34 L228.43,67.39 L229.05,67.44 L229.68,67.49 L230.30,67.54 L230.93,67.59 L231.56,67.63 L232.18,67.68 L232.81,67.73 L233.43,67.78 L234.06,67.83 L234.69,67.88 L235.31,67.93 L235.94,67.98 L236.56,68.02 L237.19,68.07 L237.81,68.12 L238.44,68.17 L239.07,68.22 L239.69,68.26 L240.32,68.31 L240.94,68.36 L241.57,68.41 L242.20,68.45 L242.82,68.50 L243.45,68.55 L244.07,68.60 L244.70,68.64 L245.33,68.69 L245.95,68.74 L246.58,68.78 L247.20,68.83 L247.83,68.88 L248.45,68.93 L249.08,68.97 L249.71,69.02 L250.33,69.07 L250.96,69.12 L251.58,69.16 L252.21,69.21 L252.83,69.26 L253.46,69.31 L254.09,69.36 L254.71,69.40 L255.34,69.45 L255.96,69.50 L256.59,69.55 L257.21,69.60 L257.84,69.65 L258.46,69.70 L259.09,69.75 L259.72,69.80 L260.34,69.85 L260.97,69.90 L261.59,69.95 L262.22,70.00 L262.84,70.05 L263.47,70.10 L264.09,70.15 L264.72,70.20 L265.34,70.25 L265.97,70.30 L266.59,70.35 L267.22,70.41 L267.84,70.46 L268.47,70.51 L269.09,70.57 L269.72,70.62 L270.34,70.67 L270.97,70.73 L271.59,70.78 L272.22,70.84 L272.84,70.89 L273.47,70.95 L274.09,71.00 L274.72,71.06 L275.34,71.12 L275.97,71.17 L276.59,71.23 L277.22,71.29 L277.84,71.35 L278.47,71.41 L279.09,71.47 L279.71,71.53 L280.34,71.59 L280.96,71.65 L281.59,71.71 L282.21,71.77 L282.84,71.83 L283.46,71.90 L284.08,71.96 L284.71,72.02 L285.33,72.09 L285.96,72.15 L286.58,72.22 L287.20,72.28 L287.83,72.35 L288.45,72.42 L289.08,72.48 L289.70,72.55 L290.32,72.62 L290.95,72.69 L291.57,72.76 L292.19,72.83 L292.82,72.90 L293.44,72.97 L294.06,73.05 L294.69,73.12 L295.31,73.19 L295.93,73.27 L296.56,73.34 L297.18,73.42 L297.80,73.49 L298.43,73.57 L299.05,73.65 L299.67,73.73 L300.29,73.81 L300.92,73.89 L301.54,73.97 L302.16,74.05 L302.78,74.13 L303.41,74.22 L304.03,74.30 L304.65,74.39 L305.27,74.48 L305.89,74.57 L306.52,74.65 L307.14,74.75 L307.76,74.84 L308.38,74.93 L309.00,75.03 L309.62,75.12 L310.24,75.22 L310.86,75.32 L311.48,75.42 L312.10,75.52 L312.72,75.62 L313.33,75.73 L313.95,75.83 L314.57,75.94 L315.19,76.05 L315.80,76.16 L316.42,76.28 L317.04,76.39 L317.65,76.51 L318.27,76.63 L318.88,76.75 L319.50,76.87 L320.11,77.00 L320.72,77.13 L321.34,77.26 L321.95,77.39 L322.56,77.52 L323.17,77.66 L323.79,77.79 L324.40,77.93 L325.01,78.08 L325.61,78.22 L326.22,78.37 L326.83,78.52 L327.44,78.67 L328.05,78.83 L328.65,78.99 L329.26,79.15 L329.86,79.31 L330.47,79.47 L331.07,79.64 L331.68,79.81 L332.28,79.99 L332.88,80.16 L333.48,80.34 L334.08,80.53 L334.68,80.71 L335.28,80.90 L335.88,81.09 L336.47,81.29 L337.07,81.48 L337.67,81.68 L338.26,81.88 L338.86,82.09 L339.45,82.29 L340.04,82.50 L340.64,82.71 L341.23,82.92 L341.82,83.14 L342.41,83.35 L343.01,83.57 L343.60,83.79 L344.19,84.00 L344.78,84.22 L345.37,84.44 L345.96,84.67 L346.55,84.89 L347.14,85.11 L347.73,85.33 L348.32,85.56 L348.90,85.78 L349.49,86.00 L350.08,86.22 L350.67,86.45 L351.26,86.67 L351.85,86.89 L352.44,87.11 L353.03,87.33 L353.62,87.55 L354.21,87.77 L354.80,87.99 L355.39,88.20 L355.98,88.42 L356.57,88.63" fill="none" stroke="#ff0000" stroke-width="1.4" stroke-dasharray="4.2 5.08" stroke-dashoffset="-0.3" stroke-linejoin="round"/>
<path d="M46.43,58.59 L47.05,58.51 L47.67,58.42 L48.29,58.34 L48.91,58.26 L49.53,58.17 L50.16,58.09 L50.78,58.01 L51.40,57.93 L52.02,57.84 L52.64,57.76 L53.26,57.68 L53.88,57.60 L54.50,57.52 L55.12,57.44 L55.74,57.36 L56.37,57.28 L56.99,57.20 L57.61,57.12 L58.23,57.04 L58.85,56.96 L59.47,56.88 L60.10,56.80 L60.72,56.72 L61.34,56.64 L61.96,56.56 L62.58,56.49 L63.21,56.41 L63.83,56.33 L64.45,56.26 L65.08,56.18 L65.70,56.10 L66.32,56.03 L66.94,55.95 L67.57,55.88 L68.19,55.80 L68.81,55.73 L69.44,55.65 L70.06,55.58 L70.68,55.50 L71.31,55.43 L71.93,55.36 L72.55,55.29 L73.18,55.21 L73.80,55.14 L74.42,55.07 L75.05,55.00 L75.67,54.93 L76.30,54.86 L76.92,54.79 L77.55,54.72 L78.17,54.65 L78.79,54.58 L79.42,54.51 L80.04,54.44 L80.67,54.37 L81.29,54.31 L81.92,54.24 L82.54,54.17 L83.17,54.11 L83.79,54.04 L84.42,53.97 L85.04,53.91 L85.67,53.84 L86.29,53.78 L86.92,53.72 L87.54,53.65 L88.17,53.59 L88.79,53.53 L89.42,53.46 L90.04,53.40 L90.67,53.34 L91.29,53.28 L91.92,53.22 L92.55,53.16 L93.17,53.10 L93.80,53.04 L94.42,52.98 L95.05,52.92 L95.67,52.87 L96.30,52.81 L96.93,52.75 L97.55,52.69 L98.18,52.64 L98.80,52.58 L99.43,52.53 L100.06,52.47 L100.68,52.42 L101.31,52.37 L101.94,52.31 L102.56,52.26 L103.19,52.21 L103.82,52.16 L104.44,52.10 L105.07,52.05 L105.69,52.00 L106.32,51.95 L106.95,51.90 L107.57,51.86 L108.20,51.81 L108.83,51.76 L109.46,51.71 L110.08,51.67 L110.71,51.62 L111.34,51.58 L111.96,51.53 L112.59,51.49 L113.22,51.44 L113.84,51.40 L114.47,51.36 L115.10,51.31 L115.72,51.27 L116.35,51.23 L116.98,51.19 L117.61,51.15 L118.23,51.11 L118.86,51.07 L119.49,51.03 L120.12,51.00 L120.74,50.96 L121.37,50.92 L122.00,50.89 L122.62,50.85 L123.25,50.82 L123.88,50.78 L124.51,50.75 L125.13,50.72 L125.76,50.68 L126.39,50.65 L127.02,50.62 L127.64,50.59 L128.27,50.56 L128.90,50.53 L129.53,50.50 L130.15,50.48 L130.78,50.45 L131.41,50.42 L132.04,50.40 L132.66,50.37 L133.29,50.34 L133.92,50.32 L134.55,50.30 L135.17,50.27 L135.80,50.25 L136.43,50.23 L137.06,50.21 L137.68,50.19 L138.31,50.17 L138.94,50.15 L139.57,50.13 L140.19,50.12 L140.82,50.10 L141.45,50.08 L142.08,50.07 L142.71,50.05 L143.33,50.04 L143.96,50.03 L144.59,50.01 L145.22,50.00 L145.84,49.99 L146.47,49.98 L147.10,49.97 L147.73,49.96 L148.35,49.95 L148.98,49.94 L149.61,49.94 L150.24,49.93 L150.86,49.93 L151.49,49.92 L152.12,49.92 L152.75,49.91 L153.37,49.91 L154.00,49.91 L154.63,49.91 L155.25,49.91 L155.88,49.91 L156.51,49.91 L157.14,49.91 L157.76,49.92 L158.39,49.92 L159.02,49.92 L159.65,49.93 L160.27,49.94 L160.90,49.94 L161.53,49.95 L162.15,49.96 L162.78,49.97 L163.41,49.98 L164.04,49.99 L164.66,50.00 L165.29,50.01 L165.92,50.03 L166.54,50.04 L167.17,50.05 L167.80,50.07 L168.42,50.09 L169.05,50.10 L169.68,50.12 L170.30,50.14 L170.93,50.16 L171.56,50.18 L172.18,50.20 L172.81,50.22 L173.44,50.25 L174.06,50.27 L174.69,50.30 L175.32,50.32 L175.94,50.35 L176.57,50.38 L177.20,50.40 L177.82,50.43 L178.45,50.46 L179.07,50.49 L179.70,50.53 L180.33,50.56 L180.95,50.59 L181.58,50.63 L182.20,50.66 L182.83,50.70 L183.46,50.73 L184.08,50.77 L184.71,50.81 L185.33,50.85 L185.96,50.89 L186.59,50.93 L187.21,50.97 L187.84,51.01 L188.46,51.05 L189.09,51.10 L189.71,51.14 L190.34,51.19 L190.96,51.23 L191.59,51.28 L192.22,51.32 L192.84,51.37 L193.47,51.42 L194.09,51.47 L194.72,51.51 L195.34,51.56 L195.97,51.61 L196.59,51.66 L197.22,51.71 L197.84,51.76 L198.47,51.82 L199.09,51.87 L199.72,51.92 L200.34,51.97 L200.97,52.03 L201.60,52.08 L202.22,52.13 L202.85,52.19 L203.47,52.24 L204.10,52.30 L204.72,52.36 L205.35,52.41 L205.97,52.47 L206.60,52.52 L207.22,52.58 L207.85,52.64 L208.47,52.70 L209.10,52.75 L209.72,52.81 L210.35,52.87 L210.97,52.93 L211.60,52.99 L212.22,53.05 L212.85,53.11 L213.47,53.16 L214.10,53.22 L214.72,53.28 L215.35,53.34 L215.97,53.40 L216.60,53.46 L217.22,53.52 L217.85,53.58 L218.47,53.64 L219.10,53.70 L219.73,53.76 L220.35,53.82 L220.98,53.88 L221.60,53.94 L222.23,54.00 L222.85,54.06 L223.48,54.12 L224.10,54.18 L224.73,54.24 L225.35,54.30 L225.98,54.36 L226.60,54.42 L227.23,54.48 L227.86,54.54 L228.48,54.60 L229.11,54.66 L229.73,54.72 L230.36,54.78 L230.98,54.84 L231.61,54.90 L232.23,54.96 L232.86,55.02 L233.49,55.07 L234.11,55.13 L234.74,55.19 L235.36,55.25 L235.99,55.30 L236.62,55.36 L237.24,55.42 L237.87,55.47 L238.49,55.53 L239.12,55.58 L239.75,55.64 L240.37,55.69 L241.00,55.75 L241.63,55.80 L242.25,55.85 L242.88,55.91 L243.50,55.96 L244.13,56.01 L244.76,56.06 L245.38,56.11 L246.01,56.16 L246.64,56.21 L247.26,56.26 L247.89,56.31 L248.52,56.36 L249.14,56.41 L249.77,56.46 L250.40,56.51 L251.03,56.56 L251.65,56.61 L252.28,56.66 L252.91,56.70 L253.53,56.75 L254.16,56.80 L254.79,56.85 L255.41,56.90 L256.04,56.94 L256.67,56.99 L257.29,57.04 L257.92,57.08 L258.55,57.13 L259.18,57.18 L259.80,57.23 L260.43,57.27 L261.06,57.32 L261.68,57.37 L262.31,57.42 L262.94,57.46 L263.56,57.51 L264.19,57.56 L264.82,57.61 L265.44,57.66 L266.07,57.70 L266.70,57.75 L267.32,57.80 L267.95,57.85 L268.58,57.90 L269.20,57.95 L269.83,58.00 L270.45,58.05 L271.08,58.10 L271.71,58.15 L272.33,58.20 L272.96,58.25 L273.58,58.30 L274.21,58.36 L274.84,58.41 L275.46,58.46 L276.09,58.52 L276.71,58.57 L277.34,58.62 L277.96,58.68 L278.59,58.74 L279.21,58.79 L279.84,58.85 L280.46,58.91 L281.09,58.96 L281.71,59.02 L282.34,59.08 L282.96,59.14 L283.59,59.20 L284.21,59.26 L284.84,59.32 L285.46,59.39 L286.09,59.45 L286.71,59.51 L287.33,59.58 L287.96,59.64 L288.58,59.71 L289.20,59.78 L289.83,59.85 L290.45,59.92 L291.07,59.98 L291.70,60.06 L292.32,60.13 L292.94,60.20 L293.56,60.27 L294.19,60.35 L294.81,60.42 L295.43,60.50 L296.05,60.58 L296.67,60.65 L297.30,60.73 L297.92,60.81 L298.54,60.90 L299.16,60.98 L299.78,61.06 L300.40,61.15 L301.02,61.23 L301.64,61.32 L302.26,61.41 L302.88,61.50 L303.50,61.59 L304.12,61.68 L304.74,61.77 L305.36,61.87 L305.98,61.96 L306.60,62.06 L307.22,62.16 L307.83,62.26 L308.45,62.36 L309.07,62.46 L309.69,62.57 L310.31,62.67 L310.92,62.78 L311.54,62.89 L312.16,63.00 L312.77,63.11 L313.39,63.22 L314.01,63.33 L314.62,63.45 L315.24,63.57 L315.85,63.68 L316.47,63.80 L317.08,63.93 L317.70,64.05 L318.31,64.17 L318.92,64.30 L319.54,64.43 L320.15,64.56 L320.76,64.69 L321.37,64.82 L321.99,64.96 L322.60,65.10 L323.21,65.24 L323.82,65.38 L324.43,65.52 L325.04,65.66 L325.65,65.81 L326.26,65.96 L326.87,66.11 L327.47,66.26 L328.08,66.41 L328.69,66.57 L329.29,66.72 L329.90,66.88 L330.51,67.05 L331.11,67.21 L331.72,67.37 L332.32,67.54 L332.92,67.71 L333.53,67.88 L334.13,68.06 L334.73,68.23 L335.33,68.41 L335.94,68.59 L336.54,68.77 L337.14,68.96 L337.74,69.14 L338.33,69.33 L338.93,69.52 L339.53,69.72 L340.13,69.91 L340.72,70.11 L341.32,70.31 L341.92,70.52 L342.51,70.72 L343.10,70.93 L343.70,71.14 L344.29,71.35 L344.88,71.56 L345.47,71.78 L346.06,72.00 L346.65,72.22 L347.24,72.45 L347.83,72.68 L348.42,72.90 L349.01,73.14 L349.59,73.37 L350.18,73.61 L350.76,73.85 L351.35,74.09 L351.93,74.34 L352.51,74.58 L353.10,74.83 L353.68,75.09 L354.26,75.34 L354.84,75.60 L355.42,75.86 L356.00,76.13 L356.57,76.39" fill="none" stroke="#00ff00" stroke-width="1.4" stroke-dasharray="4.2 5.08" stroke-dashoffset="-0.3" stroke-linejoin="round"/>
<text transform="translate(262.32,126.45) scale(1.0434,1)" font-size="10.4">2</text>
<text class="i" transform="translate(267.74,126.45) scale(1.2758,1)" font-size="10.4">s</text>
<path d="M278.95,123.00 H306.7" stroke="#0000ff" stroke-width="1.0" fill="none"/>
<text transform="translate(249.83,141.73) scale(1.0314,1)" font-size="10.4">2</text>
<text class="i" transform="translate(255.89,141.73) scale(0.9737,1)" font-size="10.4">p</text>
<text transform="translate(260.22,143.93) scale(1.3395,1)" font-size="7.5">1/2</text>
<path d="M278.95,138.40 H306.7" stroke="#ff0000" stroke-width="1.0" fill="none"/>
<text transform="translate(249.83,157.01) scale(1.0314,1)" font-size="10.4">2</text>
<text class="i" transform="translate(255.89,157.01) scale(0.9737,1)" font-size="10.4">p</text>
<text transform="translate(260.64,159.21) scale(1.2938,1)" font-size="7.5">3/2</text>
<path d="M278.95,153.50 H306.7" stroke="#00ff00" stroke-width="1.0" fill="none"/>
<text transform="translate(242.32,172.29) scale(1.0434,1)" font-size="10.4">2</text>
<text class="i" transform="translate(247.74,172.29) scale(1.2758,1)" font-size="10.4">s</text>
<text transform="translate(257.17,172.29) scale(1.0897,1)" font-size="10.4">NR</text>
<path d="M278.95,168.85 H306.7" stroke="#0000ff" stroke-width="1.4" stroke-dasharray="4.2 5.08" fill="none"/>
<text transform="translate(229.83,187.57) scale(1.0314,1)" font-size="10.4">2</text>
<text class="i" transform="translate(235.89,187.57) scale(0.9737,1)" font-size="10.4">p</text>
<text transform="translate(240.22,189.77) scale(1.3395,1)" font-size="7.5">1/2</text>
<text transform="translate(257.17,187.57) scale(1.0897,1)" font-size="10.4">NR</text>
<path d="M278.95,184.40 H306.7" stroke="#ff0000" stroke-width="1.4" stroke-dasharray="4.2 5.08" fill="none"/>
<text transform="translate(229.83,202.85) scale(1.0314,1)" font-size="10.4">2</text>
<text class="i" transform="translate(235.89,202.85) scale(0.9737,1)" font-size="10.4">p</text>
<text transform="translate(240.64,205.05) scale(1.2938,1)" font-size="7.5">3/2</text>
<text transform="translate(257.17,202.85) scale(1.0897,1)" font-size="10.4">NR</text>
<path d="M278.95,199.45 H306.7" stroke="#00ff00" stroke-width="1.4" stroke-dasharray="4.2 5.08" fill="none"/>
<path d="M46.40,220.43 v-3.3 M46.40,20.26 v3.3 M81.00,220.43 v-1.7 M81.00,20.26 v1.7 M101.24,220.43 v-1.7 M101.24,20.26 v1.7 M115.60,220.43 v-1.7 M115.60,20.26 v1.7 M126.74,220.43 v-1.7 M126.74,20.26 v1.7 M135.84,220.43 v-1.7 M135.84,20.26 v1.7 M143.53,220.43 v-1.7 M143.53,20.26 v1.7 M150.20,220.43 v-1.7 M150.20,20.26 v1.7 M156.08,220.43 v-1.7 M156.08,20.26 v1.7 M161.33,220.43 v-3.3 M161.33,20.26 v3.3 M195.93,220.43 v-1.7 M195.93,20.26 v1.7 M216.17,220.43 v-1.7 M216.17,20.26 v1.7 M230.53,220.43 v-1.7 M230.53,20.26 v1.7 M241.67,220.43 v-1.7 M241.67,20.26 v1.7 M250.77,220.43 v-1.7 M250.77,20.26 v1.7 M258.47,220.43 v-1.7 M258.47,20.26 v1.7 M265.13,220.43 v-1.7 M265.13,20.26 v1.7 M271.01,220.43 v-1.7 M271.01,20.26 v1.7 M276.27,220.43 v-3.3 M276.27,20.26 v3.3 M310.87,220.43 v-1.7 M310.87,20.26 v1.7 M331.11,220.43 v-1.7 M331.11,20.26 v1.7 M345.47,220.43 v-1.7 M345.47,20.26 v1.7 M356.60,220.43 v-1.7 M356.60,20.26 v1.7 M365.71,220.43 v-1.7 M365.71,20.26 v1.7 M373.40,220.43 v-1.7 M373.40,20.26 v1.7 M46.4,220.43 h3.3 M373.4,220.43 h-3.3 M46.4,207.61 h1.7 M373.4,207.61 h-1.7 M46.4,200.11 h1.7 M373.4,200.11 h-1.7 M46.4,194.78 h1.7 M373.4,194.78 h-1.7 M46.4,190.65 h1.7 M373.4,190.65 h-1.7 M46.4,187.28 h1.7 M373.4,187.28 h-1.7 M46.4,184.43 h1.7 M373.4,184.43 h-1.7 M46.4,181.96 h1.7 M373.4,181.96 h-1.7 M46.4,179.78 h1.7 M373.4,179.78 h-1.7 M46.4,177.83 h3.3 M373.4,177.83 h-3.3 M46.4,165.01 h1.7 M373.4,165.01 h-1.7 M46.4,157.51 h1.7 M373.4,157.51 h-1.7 M46.4,152.18 h1.7 M373.4,152.18 h-1.7 M46.4,148.06 h1.7 M373.4,148.06 h-1.7 M46.4,144.68 h1.7 M373.4,144.68 h-1.7 M46.4,141.83 h1.7 M373.4,141.83 h-1.7 M46.4,139.36 h1.7 M373.4,139.36 h-1.7 M46.4,137.18 h1.7 M373.4,137.18 h-1.7 M46.4,135.23 h3.3 M373.4,135.23 h-3.3 M46.4,122.41 h1.7 M373.4,122.41 h-1.7 M46.4,114.91 h1.7 M373.4,114.91 h-1.7 M46.4,109.59 h1.7 M373.4,109.59 h-1.7 M46.4,105.46 h1.7 M373.4,105.46 h-1.7 M46.4,102.08 h1.7 M373.4,102.08 h-1.7 M46.4,99.23 h1.7 M373.4,99.23 h-1.7 M46.4,96.76 h1.7 M373.4,96.76 h-1.7 M46.4,94.58 h1.7 M373.4,94.58 h-1.7 M46.4,92.63 h3.3 M373.4,92.63 h-3.3 M46.4,79.81 h1.7 M373.4,79.81 h-1.7 M46.4,72.31 h1.7 M373.4,72.31 h-1.7 M46.4,66.99 h1.7 M373.4,66.99 h-1.7 M46.4,62.86 h1.7 M373.4,62.86 h-1.7 M46.4,59.49 h1.7 M373.4,59.49 h-1.7 M46.4,56.63 h1.7 M373.4,56.63 h-1.7 M46.4,54.16 h1.7 M373.4,54.16 h-1.7 M46.4,51.98 h1.7 M373.4,51.98 h-1.7 M46.4,50.04 h3.3 M373.4,50.04 h-3.3 M46.4,37.21 h1.7 M373.4,37.21 h-1.7 M46.4,29.71 h1.7 M373.4,29.71 h-1.7 M46.4,24.39 h1.7 M373.4,24.39 h-1.7 M46.4,20.26 h1.7 M373.4,20.26 h-1.7" stroke="#000" stroke-width="0.45" fill="none"/>
<rect x="46.4" y="20.26" width="327.0" height="200.17" fill="none" stroke="#000" stroke-width="0.5"/>
<text transform="translate(18.96,224.83) scale(1.0286,1)" font-size="10.4">10</text>
<text transform="translate(29.39,221.13) scale(1.3754,1)" font-size="7.5">−</text>
<text transform="translate(35.50,221.13) scale(1.2327,1)" font-size="7.5">6</text>
<text transform="translate(18.96,182.23) scale(1.0286,1)" font-size="10.4">10</text>
<text transform="translate(29.39,178.53) scale(1.3754,1)" font-size="7.5">−</text>
<text transform="translate(35.33,178.53) scale(1.3074,1)" font-size="7.5">5</text>
<text transform="translate(18.96,139.63) scale(1.0286,1)" font-size="10.4">10</text>
<text transform="translate(29.39,135.93) scale(1.3754,1)" font-size="7.5">−</text>
<text transform="translate(35.73,135.93) scale(1.1330,1)" font-size="7.5">4</text>
<text transform="translate(18.96,97.03) scale(1.0286,1)" font-size="10.4">10</text>
<text transform="translate(29.39,93.33) scale(1.3754,1)" font-size="7.5">−</text>
<text transform="translate(35.44,93.33) scale(1.2750,1)" font-size="7.5">3</text>
<text transform="translate(18.96,54.44) scale(1.0286,1)" font-size="10.4">10</text>
<text transform="translate(29.39,50.74) scale(1.3754,1)" font-size="7.5">−</text>
<text transform="translate(35.47,50.74) scale(1.3138,1)" font-size="7.5">2</text>
<text transform="translate(35.39,235.25) scale(1.1001,1)" font-size="10.4">10</text>
<text transform="translate(46.50,231.30) scale(1.3467,1)" font-size="7.5">−</text>
<text transform="translate(52.70,231.30) scale(0.9090,1)" font-size="7.5">1</text>
<text transform="translate(153.69,235.25) scale(1.1001,1)" font-size="10.4">10</text>
<text transform="translate(165.07,231.30) scale(1.1640,1)" font-size="7.5">0</text>
<text transform="translate(268.39,235.25) scale(1.1001,1)" font-size="10.4">10</text>
<text transform="translate(279.90,231.30) scale(0.9090,1)" font-size="7.5">1</text>
<text transform="translate(154.97,9.60) scale(1.1106,1)" font-size="10.4">EC:</text>
<text transform="translate(176.77,9.60) scale(1.2380,1)" font-size="10.4">Th</text>
<text transform="translate(190.92,5.80) scale(1.1419,1)" font-size="7.5">90+</text>
<text transform="translate(209.16,9.60) scale(1.4258,1)" font-size="10.4">+</text>
<text transform="translate(220.48,9.60) scale(1.0513,1)" font-size="10.4">Zr</text>
<text transform="translate(230.66,5.80) scale(1.2268,1)" font-size="7.5">39+</text>
<text transform="translate(246.31,9.90) scale(0.7589,1)" font-size="11.8">(</text>
<text transform="translate(249.45,9.60) scale(1.1471,1)" font-size="10.4">1</text>
<text class="i" transform="translate(255.55,9.60) scale(1.2204,1)" font-size="10.4">s</text>
<text transform="translate(261.30,9.90) scale(0.7919,1)" font-size="11.8">)</text>
<text class="i" transform="translate(184.14,249.60) scale(1.1416,1)" font-size="10.4">E</text>
<text transform="translate(195.97,249.90) scale(0.6090,1)" font-size="11.8">[</text>
<text transform="translate(198.35,249.60) scale(1.1799,1)" font-size="10.4">MeV/u</text>
<text transform="translate(233.16,249.90) scale(0.5709,1)" font-size="11.8">]</text>
<text class="i" transform="translate(9.80,152.44) rotate(-90) scale(1.0875,1)" font-size="10.4">σ</text>
<text transform="translate(10.10,141.77) rotate(-90) scale(0.6470,1)" font-size="11.8">[</text>
<text transform="translate(9.80,139.37) rotate(-90) scale(1.0561,1)" font-size="10.4">10</text>
<text transform="translate(6.00,128.28) rotate(-90) scale(1.2755,1)" font-size="7.5">−16</text>
<text transform="translate(9.80,110.27) rotate(-90) scale(0.9303,1)" font-size="10.4">cm</text>
<text transform="translate(6.00,98.24) rotate(-90) scale(1.3304,1)" font-size="7.5">2</text>
<text transform="translate(10.10,92.08) rotate(-90) scale(0.6470,1)" font-size="11.8">]</text>
</svg></body></html>
